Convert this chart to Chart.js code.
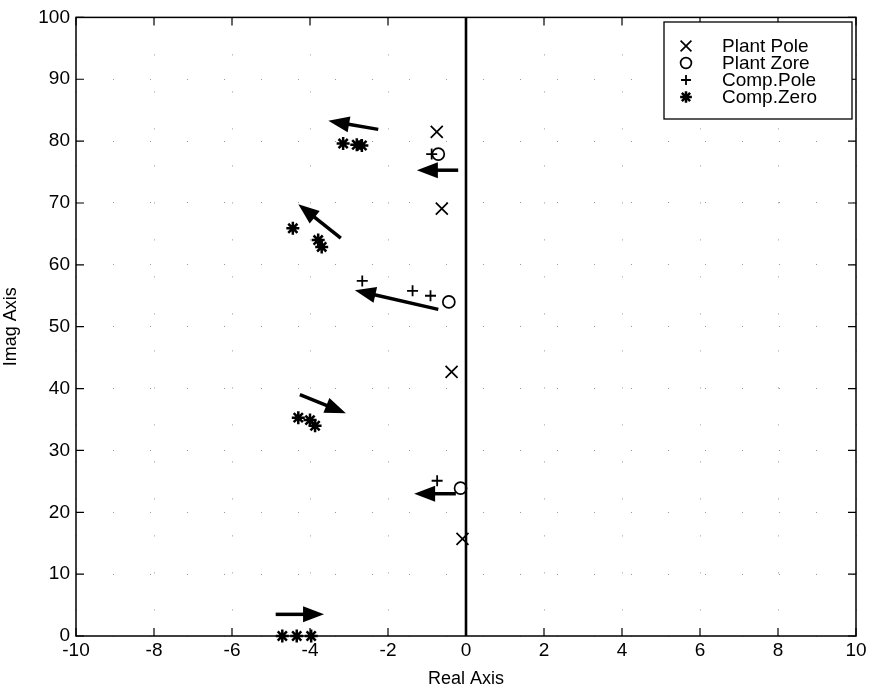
<!DOCTYPE html>
<html>
<head>
<meta charset="utf-8">
<script src="https://cdn.jsdelivr.net/npm/chart.js@4/dist/chart.umd.min.js"></script>
<style>
  html, body { margin: 0; padding: 0; background: #fff; }
  #wrap { width: 879px; height: 690px; }
</style>
</head>
<body>
<div id="wrap"><canvas id="chart"></canvas></div>
<script>
// values
const plantPoleX = [-0.75, -0.62, -0.37, -0.09];
const plantPoleY = [81.5, 69.1, 42.7, 15.7];

const plantZeroX = [-0.71, -0.44, -0.14];
const plantZeroY = [77.9, 54.0, 23.9];

const compPoleX = [-0.88, -2.66, -1.37, -0.91, -0.74];
const compPoleY = [77.9, 57.4, 55.8, 55.0, 25.1];

const compZeroX = [-3.15, -2.8, -2.67, -4.44, -3.79, -3.7, -4.3, -4.0, -3.87, -4.71, -4.34, -3.97];
const compZeroY = [79.6, 79.4, 79.3, 65.9, 64.0, 62.9, 35.3, 34.9, 34.0, 0, 0, 0];

// arrows: tail -> head
const arrowTailX = [-2.25, -0.2, -3.21, -0.71, -4.26, -0.26, -4.88];
const arrowTailY = [81.9, 75.3, 64.3, 52.8, 39.0, 23.0, 3.5];
const arrowHeadX = [-3.53, -1.26, -4.3, -2.85, -3.08, -1.33, -3.64];
const arrowHeadY = [83.3, 75.3, 69.8, 55.9, 36.0, 23.0, 3.5];

const legendLabels = ["Plant Pole", "Plant Zore", "Comp.Pole", "Comp.Zero"];

const FONT = '"Liberation Sans", Arial, Helvetica, sans-serif';

function pts(xs, ys) {
  return xs.map((x, i) => ({ x: x, y: ys[i] }));
}

const markerDatasets = [
  { label: legendLabels[0], data: pts(plantPoleX, plantPoleY), pointStyle: "crossRot", pointRadius: 8.5, pointBorderWidth: 1.7 },
  { label: legendLabels[1], data: pts(plantZeroX, plantZeroY), pointStyle: "circle", pointRadius: 6, pointBorderWidth: 1.7 },
  { label: legendLabels[2], data: pts(compPoleX, compPoleY), pointStyle: "cross", pointRadius: 5.5, pointBorderWidth: 1.8 },
  { label: legendLabels[3], data: pts(compZeroX, compZeroY), pointStyle: "star", pointRadius: 6.5, pointBorderWidth: 2.5 },
];

const framePlugin = {
  id: "frame",
  afterDatasetsDraw(chart) {
    const ctx = chart.ctx;
    const a = chart.chartArea;
    const xs = chart.scales.x, ys = chart.scales.y;
    ctx.save();
    ctx.strokeStyle = "#000";
    ctx.fillStyle = "#000";

    // arrows
    for (let i = 0; i < arrowTailX.length; i++) {
      const x0 = xs.getPixelForValue(arrowTailX[i]);
      const y0 = ys.getPixelForValue(arrowTailY[i]);
      const x1 = xs.getPixelForValue(arrowHeadX[i]);
      const y1 = ys.getPixelForValue(arrowHeadY[i]);
      const ang = Math.atan2(y1 - y0, x1 - x0);
      const len = 21, hw = 8;
      const bx = x1 - len * Math.cos(ang), by = y1 - len * Math.sin(ang);
      ctx.lineWidth = 3.5;
      ctx.beginPath();
      ctx.moveTo(x0, y0);
      ctx.lineTo(bx + 2 * Math.cos(ang), by + 2 * Math.sin(ang));
      ctx.stroke();
      ctx.beginPath();
      ctx.moveTo(x1, y1);
      ctx.lineTo(bx + hw * Math.sin(ang), by - hw * Math.cos(ang));
      ctx.lineTo(bx - hw * Math.sin(ang), by + hw * Math.cos(ang));
      ctx.closePath();
      ctx.fill();
    }

    // box and inward ticks
    ctx.lineWidth = 1.5;
    ctx.strokeRect(a.left, a.top, a.right - a.left, a.bottom - a.top);
    const tl = 8;
    ctx.lineWidth = 1.2;
    ctx.beginPath();
    xs.ticks.forEach(t => {
      const p = xs.getPixelForValue(t.value);
      ctx.moveTo(p, a.bottom); ctx.lineTo(p, a.bottom - tl);
      ctx.moveTo(p, a.top); ctx.lineTo(p, a.top + tl);
    });
    ys.ticks.forEach(t => {
      const p = ys.getPixelForValue(t.value);
      ctx.moveTo(a.left, p); ctx.lineTo(a.left + tl, p);
      ctx.moveTo(a.right, p); ctx.lineTo(a.right - tl, p);
    });
    ctx.stroke();

    // legend box
    const lx = 664, ly = 22, lw = 188, lh = 97;
    ctx.fillStyle = "#fff";
    ctx.fillRect(lx, ly, lw, lh);
    ctx.lineWidth = 1.3;
    ctx.strokeRect(lx, ly, lw, lh);
    ctx.font = "19px " + FONT;
    ctx.textBaseline = "middle";
    const rows = [46, 63, 80, 97];
    markerDatasets.forEach((d, i) => {
      ctx.fillStyle = "rgba(0,0,0,0)";
      ctx.lineWidth = d.pointBorderWidth;
      Chart.helpers.drawPoint(ctx, { pointStyle: d.pointStyle, radius: d.pointRadius * 0.9, borderWidth: d.pointBorderWidth }, 686, rows[i]);
      ctx.fillStyle = "#000";
      ctx.fillText(d.label, 722, rows[i] + 1);
    });
    ctx.restore();
  }
};

new Chart(document.getElementById("chart"), {
  type: "scatter",
  data: {
    datasets: [
      {
        label: "axis",
        data: [{ x: 0, y: 0 }, { x: 0, y: 100 }],
        showLine: true,
        borderColor: "#000",
        borderWidth: 2.6,
        pointRadius: 0,
      },
      ...markerDatasets.map(d => ({
        label: d.label,
        data: d.data,
        pointStyle: d.pointStyle,
        pointRadius: d.pointRadius,
        pointBorderWidth: d.pointBorderWidth,
        borderColor: "#000",
        backgroundColor: "rgba(0,0,0,0)",
        pointBorderColor: "#000",
        pointBackgroundColor: "rgba(0,0,0,0)",
      })),
    ],
  },
  options: {
    responsive: true,
    maintainAspectRatio: false,
    animation: false,
    clip: false,
    layout: { padding: { top: 13, right: 23, left: 0, bottom: 0 } },
    plugins: { legend: { display: false }, tooltip: { enabled: false } },
    scales: {
      x: {
        type: "linear",
        min: -10,
        max: 10,
        ticks: { stepSize: 2, color: "#000", font: { family: FONT, size: 19 }, padding: 3 },
        grid: { color: "#999", lineWidth: 1, drawTicks: false },
        border: { display: false, dash: [1, 36] },
        title: { display: true, text: "Real Axis", color: "#000", font: { family: FONT, size: 18 }, padding: { top: 0, bottom: 0 } },
        afterFit(scale) { scale.height = 54; },
      },
      y: {
        type: "linear",
        min: 0,
        max: 100,
        ticks: { stepSize: 10, color: "#000", font: { family: FONT, size: 19 }, padding: 6 },
        grid: { color: "#999", lineWidth: 1, drawTicks: false },
        border: { display: false, dash: [1, 36] },
        title: { display: true, text: "Imag Axis", color: "#000", font: { family: FONT, size: 18 }, padding: { top: 0, bottom: 0 } },
        afterFit(scale) { scale.width = 76; },
      },
    },
  },
  plugins: [framePlugin],
});
</script>
</body>
</html>
